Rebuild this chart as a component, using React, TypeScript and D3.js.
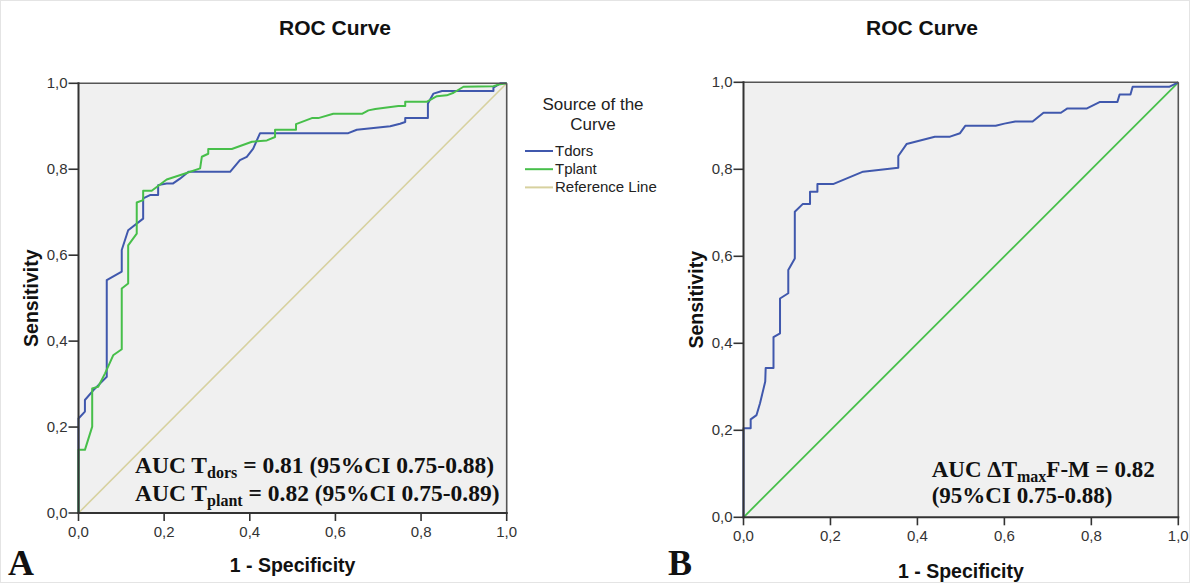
import React from "react";
import * as d3 from "d3";

const W = 1190;
const H = 583;

// Panel A – Tdors ROC (1 - specificity, sensitivity)
const tdorsFpr = [0, 0, 0.015, 0.015, 0.035, 0.066, 0.066, 0.101, 0.101, 0.116, 0.151, 0.151, 0.167, 0.186, 0.186, 0.206, 0.221, 0.237, 0.257, 0.354, 0.377, 0.393, 0.408, 0.424, 0.63, 0.65, 0.728, 0.751, 0.763, 0.763, 0.816, 0.816, 0.829, 0.849, 0.969, 0.969, 0.985, 1];
const tdorsTpr = [0, 0.22, 0.236, 0.263, 0.286, 0.317, 0.542, 0.562, 0.612, 0.658, 0.685, 0.732, 0.74, 0.74, 0.763, 0.767, 0.767, 0.778, 0.794, 0.794, 0.821, 0.829, 0.848, 0.884, 0.884, 0.892, 0.9, 0.906, 0.91, 0.919, 0.919, 0.953, 0.976, 0.982, 0.982, 0.99, 1, 1];

// Panel A – Tplant ROC
const tplantFpr = [0, 0, 0.015, 0.032, 0.032, 0.046, 0.062, 0.081, 0.101, 0.101, 0.116, 0.116, 0.136, 0.136, 0.151, 0.151, 0.171, 0.206, 0.249, 0.284, 0.288, 0.303, 0.303, 0.358, 0.405, 0.44, 0.459, 0.459, 0.508, 0.508, 0.545, 0.56, 0.595, 0.662, 0.677, 0.693, 0.747, 0.763, 0.763, 0.813, 0.837, 0.86, 0.876, 0.899, 0.969, 0.985, 1];
const tplantTpr = [0, 0.147, 0.147, 0.201, 0.29, 0.294, 0.325, 0.367, 0.381, 0.5225, 0.534, 0.623, 0.65, 0.7225, 0.728, 0.75, 0.75, 0.776, 0.79, 0.802, 0.829, 0.836, 0.847, 0.847, 0.864, 0.867, 0.875, 0.892, 0.892, 0.905, 0.919, 0.919, 0.929, 0.929, 0.937, 0.94, 0.947, 0.947, 0.957, 0.957, 0.97, 0.972, 0.978, 0.992, 0.993, 0.998, 1];

// Panel B – ΔTmax F-M ROC
const dtmaxFpr = [0, 0, 0.0165, 0.0165, 0.03, 0.038, 0.05, 0.051, 0.069, 0.069, 0.084, 0.084, 0.103, 0.103, 0.118, 0.118, 0.136, 0.153, 0.153, 0.17, 0.17, 0.206, 0.275, 0.356, 0.356, 0.375, 0.44, 0.475, 0.498, 0.51, 0.58, 0.6, 0.625, 0.665, 0.69, 0.73, 0.745, 0.79, 0.82, 0.86, 0.865, 0.89, 0.895, 0.98, 1];
const dtmaxTpr = [0, 0.205, 0.205, 0.225, 0.235, 0.262, 0.312, 0.343, 0.343, 0.414, 0.423, 0.503, 0.515, 0.5685, 0.595, 0.7025, 0.72, 0.72, 0.7485, 0.7485, 0.766, 0.766, 0.7945, 0.8035, 0.8305, 0.858, 0.875, 0.875, 0.883, 0.9, 0.9, 0.905, 0.91, 0.91, 0.93, 0.93, 0.94, 0.94, 0.955, 0.955, 0.972, 0.972, 0.99, 0.99, 1];

const refLine = [0, 1];
const tickValues = [0, 0.2, 0.4, 0.6, 0.8, 1.0];
const tickLabels = ["0,0", "0,2", "0,4", "0,6", "0,8", "1,0"];
const legendLabels = ["Tdors", "Tplant", "Reference Line"];

const BLUE = "#4058ad";
const GREEN = "#47bf4a";
const REF = "#d7d19f";
const SANS = "Liberation Sans, Arial, sans-serif";
const SERIF = "Liberation Serif, Times New Roman, serif";

type Series = { xs: number[]; ys: number[]; color: string; width: number };

function Panel(props: {
  x0: number; x1: number; y0: number; y1: number; titleY: number;
  series: Series[];
}) {
  const { x0, x1, y0, y1, series, titleY } = props;
  const x = d3.scaleLinear().domain([0, 1]).range([x0, x1]);
  const y = d3.scaleLinear().domain([0, 1]).range([y1, y0]);
  const line = d3.line<[number, number]>().x((d) => x(d[0])).y((d) => y(d[1]));
  return (
    <g>
      <rect x={x0} y={y0} width={x1 - x0} height={y1 - y0} fill="#f0f0f0" />
      {series.map((s, i) => (
        <path
          key={i}
          d={line(s.xs.map((v, k) => [v, s.ys[k]] as [number, number])) || ""}
          fill="none"
          stroke={s.color}
          strokeWidth={s.width}
          strokeLinejoin="round"
        />
      ))}
      <line x1={x0} x2={x1} y1={y0} y2={y0} stroke="#555" strokeWidth={1.6} />
      <line x1={x1} x2={x1} y1={y0} y2={y1} stroke="#555" strokeWidth={1.6} />
      <line x1={x0} x2={x0} y1={y0 - 1} y2={y1 + 1} stroke="#333" strokeWidth={2} />
      <line x1={x0 - 1} x2={x1 + 1} y1={y1} y2={y1} stroke="#333" strokeWidth={2} />
      {tickValues.map((t, i) => (
        <g key={"y" + i}>
          <line x1={x0 - 10} x2={x0} y1={y(t)} y2={y(t)} stroke="#333" strokeWidth={1.6} />
          <text x={x0 - 11} y={y(t) + 5} textAnchor="end" fontFamily={SANS} fontSize={15} fill="#333">
            {tickLabels[i]}
          </text>
        </g>
      ))}
      {tickValues.map((t, i) => (
        <g key={"x" + i}>
          <line x1={x(t)} x2={x(t)} y1={y1} y2={y1 + 8} stroke="#333" strokeWidth={1.6} />
          <text x={x(t)} y={y1 + 24} textAnchor="middle" fontFamily={SANS} fontSize={15} fill="#333">
            {tickLabels[i]}
          </text>
        </g>
      ))}
      <text x={(x0 + x1) / 2} y={titleY} textAnchor="middle" fontFamily={SANS} fontWeight="bold" fontSize={19.5} fill="#111">
        1 - Specificity
      </text>
      <text
        transform={`translate(${x0 - 41},${(y0 + y1) / 2}) rotate(-90)`}
        textAnchor="middle"
        fontFamily={SANS}
        fontWeight="bold"
        fontSize={19.5}
        fill="#111"
      >
        Sensitivity
      </text>
    </g>
  );
}

export default function App() {
  const legendColors = [BLUE, GREEN, REF];
  return (
    <div style={{ position: "absolute", left: 0, top: 0 }}>
      <svg width={W} height={H} style={{ display: "block", background: "#fff" }}>
        <rect x={0.5} y={0.5} width={W - 1} height={H - 1} fill="none" stroke="#e4e4e4" />
        <text x={335} y={35} textAnchor="middle" fontFamily={SANS} fontWeight="bold" fontSize={21} fill="#111">
          ROC Curve
        </text>
        <text x={922} y={35} textAnchor="middle" fontFamily={SANS} fontWeight="bold" fontSize={21} fill="#111">
          ROC Curve
        </text>

        <Panel
          x0={78.5}
          x1={506.7}
          y0={83.3}
          y1={513}
          titleY={572}
          series={[
            { xs: refLine, ys: refLine, color: REF, width: 1.6 },
            { xs: tdorsFpr, ys: tdorsTpr, color: BLUE, width: 2 },
            { xs: tplantFpr, ys: tplantTpr, color: GREEN, width: 2 },
          ]}
        />
        <Panel
          x0={743.5}
          x1={1178.3}
          y0={82.3}
          y1={517.3}
          titleY={578}
          series={[
            { xs: refLine, ys: refLine, color: GREEN, width: 1.8 },
            { xs: dtmaxFpr, ys: dtmaxTpr, color: BLUE, width: 2 },
          ]}
        />

        <text x={593} y={110} textAnchor="middle" fontFamily={SANS} fontSize={17} fill="#222">
          Source of the
        </text>
        <text x={593} y={130} textAnchor="middle" fontFamily={SANS} fontSize={17} fill="#222">
          Curve
        </text>
        {legendLabels.map((lab, i) => (
          <g key={lab}>
            <line x1={525} x2={553} y1={151 + i * 18.2} y2={151 + i * 18.2} stroke={legendColors[i]} strokeWidth={2} />
            <text x={555} y={156 + i * 18.2} fontFamily={SANS} fontSize={15} fill="#222">
              {lab}
            </text>
          </g>
        ))}

        <text x={135} y={473.3} fontFamily={SERIF} fontWeight="bold" fontSize={23.5} fill="#111" style={{ whiteSpace: "pre" }}>
          AUC T<tspan fontSize={16} dy={5}>dors</tspan>
          <tspan dy={-5}>{" = 0.81 (95%CI 0.75-0.88)"}</tspan>
        </text>
        <text x={135} y={501} fontFamily={SERIF} fontWeight="bold" fontSize={23.5} fill="#111" style={{ whiteSpace: "pre" }}>
          AUC T<tspan fontSize={16} dy={5}>plant</tspan>
          <tspan dy={-5}>{" = 0.82 (95%CI 0.75-0.89)"}</tspan>
        </text>
        <text x={931.7} y={476.7} fontFamily={SERIF} fontWeight="bold" fontSize={23} fill="#111" style={{ whiteSpace: "pre" }}>
          AUC ΔT<tspan fontSize={16} dy={5}>max</tspan>
          <tspan dy={-5}>{"F-M = 0.82"}</tspan>
        </text>
        <text x={931.7} y={503.3} fontFamily={SERIF} fontWeight="bold" fontSize={23} fill="#111">
          (95%CI 0.75-0.88)
        </text>

        <text x={8} y={575} fontFamily={SERIF} fontWeight="bold" fontSize={36} fill="#111">
          A
        </text>
        <text x={668} y={575} fontFamily={SERIF} fontWeight="bold" fontSize={36} fill="#111">
          B
        </text>
      </svg>
    </div>
  );
}
